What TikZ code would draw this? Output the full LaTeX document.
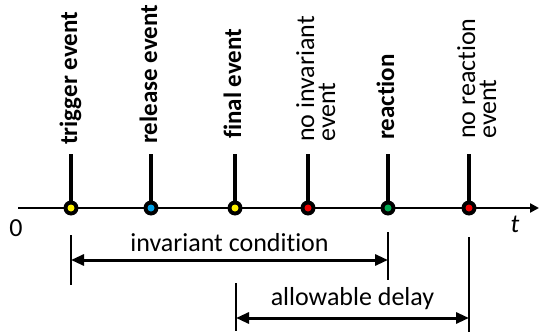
\documentclass[tikz,border=0pt]{standalone}
\usepackage{fontspec}
\setmainfont{Carlito}[Ligatures=NoCommon]
\usetikzlibrary{arrows.meta}
\definecolor{evyellow}{RGB}{255,240,0}
\definecolor{evblue}{RGB}{0,160,230}
\definecolor{evred}{RGB}{240,0,0}
\definecolor{evgreen}{RGB}{0,170,80}
\tikzset{
  stick/.style={line width=4.5pt},
  evlabel/.style={rotate=90,anchor=base west,inner sep=0pt,align=left,
    font=\fontsize{26}{21}\selectfont},
  boldlabel/.style={evlabel,font=\fontsize{25}{21}\selectfont\bfseries},
  span/.style={line width=3pt,{Triangle[length=13pt,width=11pt]}-{Triangle[length=13pt,width=11pt]}},
  tick/.style={line width=1.3pt}
}
\begin{document}
\begin{tikzpicture}[x=1pt,y=-1pt]
    \useasboundingbox (0,0) rectangle (539,332);
    % time axis
    \coordinate (O) at (18,208);
    \coordinate (T) at (539,208);
    \draw[line width=2.5pt,-{Triangle[length=9pt,width=9pt]}] (O) -- (T);
    \node[font=\fontsize{26}{26}\selectfont] (zero) at (16,228) {0};
    \node[font=\fontsize{26}{26}\selectfont\itshape] (tlab) at (515,224) {t};
    % events
    \coordinate (E1) at (71,208);
    \coordinate (E2) at (151,208);
    \coordinate (E3) at (235,208);
    \coordinate (E4) at (308,208);
    \coordinate (E5) at (388,208);
    \coordinate (E6) at (469,208);
    \foreach \e/\c in {E1/evyellow,E2/evblue,E3/evyellow,E4/evred,E5/evgreen,E6/evred}{
      \draw[stick] (\e) -- ++(0,-54);
      \fill[black] (\e) circle (7.5pt);
      \fill[\c] (\e) circle (3.5pt);
    }
    \node[boldlabel] (L1) at (77,145) {trigger event};
    \node[boldlabel] (L2) at (157,144) {release event};
    \node[boldlabel] (L3) at (241,139) {final event};
    \node[evlabel] (L4) at (335,142) {no invariant\\event};
    \node[boldlabel] (L5) at (394,140) {reaction};
    \node[evlabel] (L6) at (496,139) {no reaction\\event};
    % invariant condition
    \coordinate (A1) at (71,235);
    \coordinate (A2) at (388,232);
    \draw[tick] (A1) -- ++(0,50);
    \draw[tick] (A2) -- ++(0,48);
    \draw[span] (71,260) -- node[above=3pt,font=\fontsize{26}{26}\selectfont] (inv) {invariant condition} (388,260);
    % allowable delay
    \coordinate (B1) at (236,283);
    \coordinate (B2) at (469,237);
    \draw[tick] (B1) -- ++(0,48);
    \draw[tick] (B2) -- ++(0,95);
    \draw[span] (236,318) -- node[above=3pt,font=\fontsize{26}{26}\selectfont] (del) {allowable delay} (469,318);
  \end{tikzpicture}
\end{document}
